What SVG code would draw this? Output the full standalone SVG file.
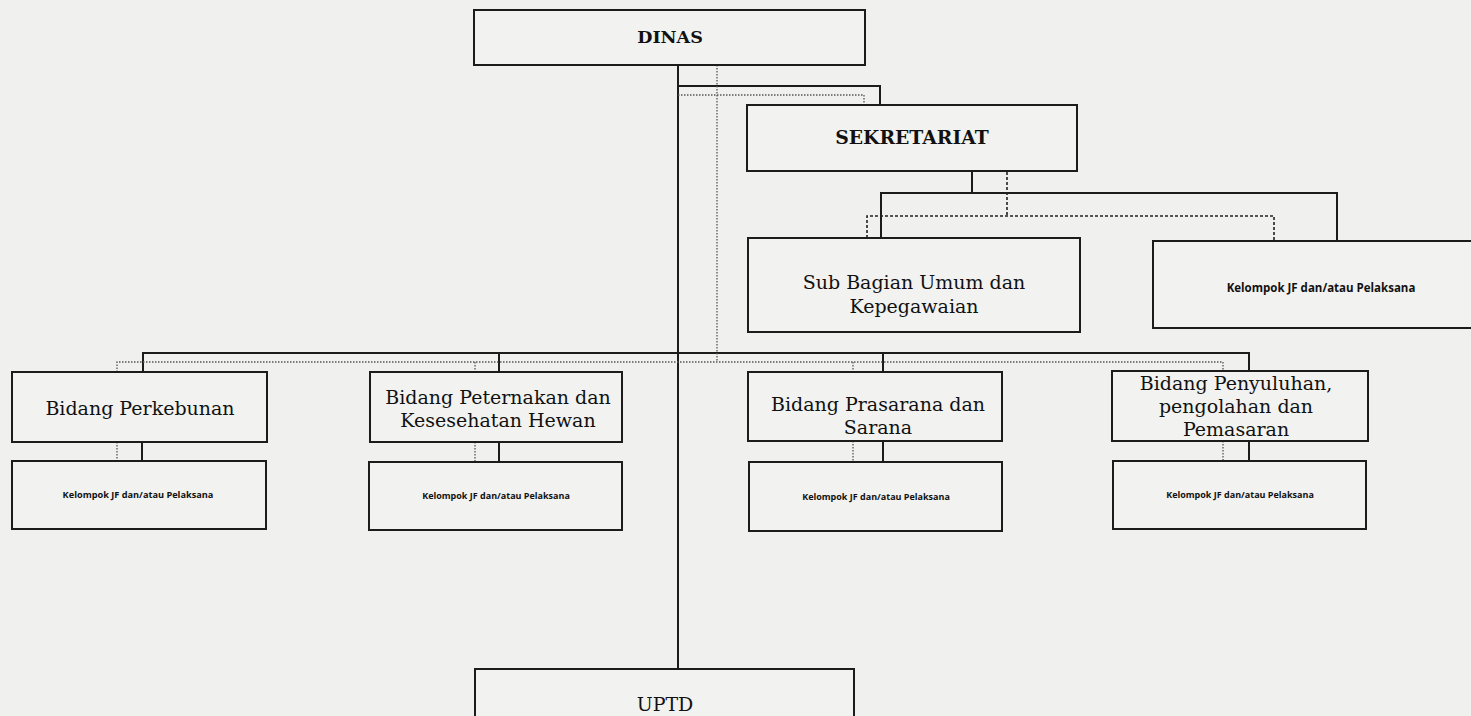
<svg xmlns="http://www.w3.org/2000/svg" width="1471" height="716" viewBox="0 0 1471 716">
<style>
.box{fill:#f2f2f0;stroke:#1c1c1c;stroke-width:2}
.solid{fill:none;stroke:#1c1c1c;stroke-width:2}
.dot{fill:none;stroke:#555;stroke-width:1.3;stroke-dasharray:1.5 1.5}
.dash{fill:none;stroke:#222;stroke-width:1.6;stroke-dasharray:3 2}
.hb{font-family:"DejaVu Serif","Liberation Serif",serif;font-weight:bold;fill:#111;text-anchor:middle}
.t{font-family:"DejaVu Serif","Liberation Serif",serif;fill:#111;text-anchor:middle;font-size:19px}
.k{font-family:"Open Sans","Liberation Sans",sans-serif;font-weight:bold;fill:#111;text-anchor:middle}
</style>
<rect width="1471" height="716" fill="#f0f0ee"/>
<g id="connectors">
<path class="solid" d="M678,65 V669"/>
<path class="solid" d="M678,86 H880 V105"/>
<path class="solid" d="M972,172 V193"/>
<path class="solid" d="M881,238 V193 H1337 V242"/>
<path class="solid" d="M143,372 V353 H1249 V372"/>
<path class="solid" d="M499,353 V372"/>
<path class="solid" d="M883,353 V372"/>
<path class="solid" d="M142,442 V461"/>
<path class="solid" d="M499,442 V462"/>
<path class="solid" d="M883,441 V462"/>
<path class="solid" d="M1249,441 V461"/>
<path class="dot" d="M717,65 V362"/>
<path class="dot" d="M678,95 H864 V105"/>
<path class="dot" d="M117,372 V362 H1223 V371"/>
<path class="dot" d="M475,362 V372"/>
<path class="dot" d="M853,362 V372"/>
<path class="dot" d="M117,442 V461"/>
<path class="dot" d="M475,442 V462"/>
<path class="dot" d="M853,441 V462"/>
<path class="dot" d="M1223,441 V461"/>
<path class="dash" d="M1007,172 V216"/>
<path class="dash" d="M867,238 V216 H1274 V242"/>
</g>
<g id="dinas">
<rect class="box" x="474" y="10" width="391" height="55"/>
<text class="hb" x="670" y="43" font-size="17.5">DINAS</text>
</g>
<g id="sekretariat">
<rect class="box" x="747" y="105" width="330" height="66"/>
<text class="hb" x="912" y="144" font-size="18.8">SEKRETARIAT</text>
</g>
<g id="subbagian">
<rect class="box" x="748" y="238" width="332" height="94"/>
<text class="t" x="914" y="289">Sub Bagian Umum dan</text>
<text class="t" x="914" y="313">Kepegawaian</text>
</g>
<g id="kelompok-sekretariat">
<rect class="box" x="1153" y="241" width="330" height="87"/>
<text class="k" x="1321" y="292" font-size="11.5">Kelompok JF dan/atau Pelaksana</text>
</g>
<g id="bidang-perkebunan">
<rect class="box" x="12" y="372" width="255" height="70"/>
<text class="t" x="140" y="415">Bidang Perkebunan</text>
</g>
<g id="bidang-peternakan">
<rect class="box" x="370" y="372" width="252" height="70"/>
<text class="t" x="498" y="404">Bidang Peternakan dan</text>
<text class="t" x="498" y="427">Kesesehatan Hewan</text>
</g>
<g id="bidang-prasarana">
<rect class="box" x="748" y="372" width="254" height="69"/>
<text class="t" x="878" y="411">Bidang Prasarana dan</text>
<text class="t" x="878" y="434">Sarana</text>
</g>
<g id="bidang-penyuluhan">
<rect class="box" x="1112" y="371" width="256" height="70"/>
<text class="t" x="1236" y="390">Bidang Penyuluhan,</text>
<text class="t" x="1236" y="413">pengolahan dan</text>
<text class="t" x="1236" y="436">Pemasaran</text>
</g>
<g id="kelompok-1">
<rect class="box" x="12" y="461" width="254" height="68"/>
<text class="k" x="138" y="498" font-size="9.2">Kelompok JF dan/atau Pelaksana</text>
</g>
<g id="kelompok-2">
<rect class="box" x="369" y="462" width="253" height="68"/>
<text class="k" x="496" y="499" font-size="9">Kelompok JF dan/atau Pelaksana</text>
</g>
<g id="kelompok-3">
<rect class="box" x="749" y="462" width="253" height="69"/>
<text class="k" x="876" y="500" font-size="9">Kelompok JF dan/atau Pelaksana</text>
</g>
<g id="kelompok-4">
<rect class="box" x="1113" y="461" width="253" height="68"/>
<text class="k" x="1240" y="498" font-size="9">Kelompok JF dan/atau Pelaksana</text>
</g>
<g id="uptd">
<rect class="box" x="475" y="669" width="379" height="60"/>
<text class="t" x="665" y="711" font-size="17">UPTD</text>
</g>
</svg>
